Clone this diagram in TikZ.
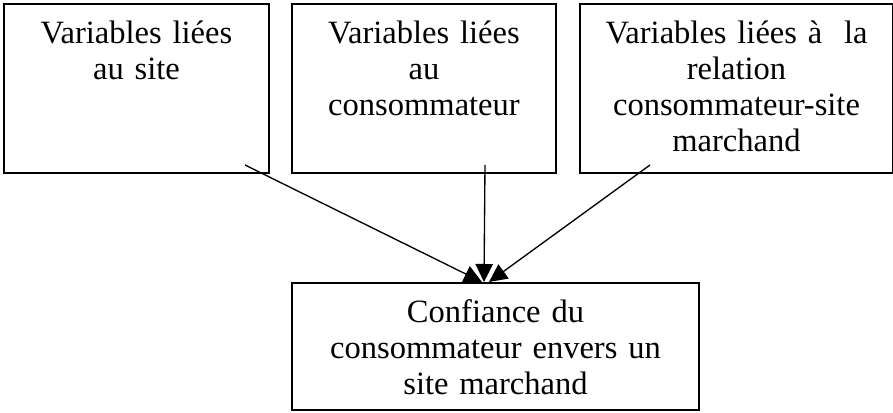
\documentclass[tikz,border=0pt]{standalone}
\usepackage{fontspec}
\setmainfont{Liberation Serif}
\usetikzlibrary{arrows.meta,calc}
\tikzset{
  varbox/.style={draw, line width=1.5pt, rectangle, anchor=north west, inner sep=0pt, align=center, text height=30pt, font=\fontsize{24.4}{27}\selectfont},
  link/.style={line width=1pt, -{Triangle[length=13.5pt,width=13pt]}}
}
\begin{document}
\begin{tikzpicture}[x=0.75pt,y=0.75pt,yscale=-1,xscale=1]
\useasboundingbox (0,0) rectangle (893,413);

%Shape: Rectangle [site]
\node [varbox, text width=198.75pt, text depth=96.75pt] (site) at (3,3) {Variables liées\\au site};
%Shape: Rectangle [cons]
\node [varbox, text width=198pt, text depth=96.75pt] (cons) at (291,3) {Variables liées\\au\\consommateur};
%Shape: Rectangle [rel]
\node [varbox, text width=234.75pt, text depth=96.75pt] (rel) at (579,3) {Variables liées à\ \ la\\relation\\consommateur-site\\marchand};
%Shape: Rectangle [conf]
\node [varbox, text width=305.25pt, text depth=65.25pt] (conf) at (291,282) {Confiance du\\consommateur envers un\\site marchand};

%Straight Lines
\coordinate (a1) at ($(site.south east)+(-25,-9)$);
\coordinate (a2) at ($(cons.south east)+(-72,-9)$);
\coordinate (a3) at ($(rel.south west)+(71,-9)$);
\coordinate (b1) at ($(conf.north)+(-13.5,0)$);
\coordinate (b2) at ($(conf.north)+(-11.5,0)$);
\coordinate (b3) at ($(conf.north)+(-6.5,0)$);
\draw [link] (a1) -- (b1);
\draw [link] (a2) -- (b2);
\draw [link] (a3) -- (b3);

\end{tikzpicture}
\end{document}
